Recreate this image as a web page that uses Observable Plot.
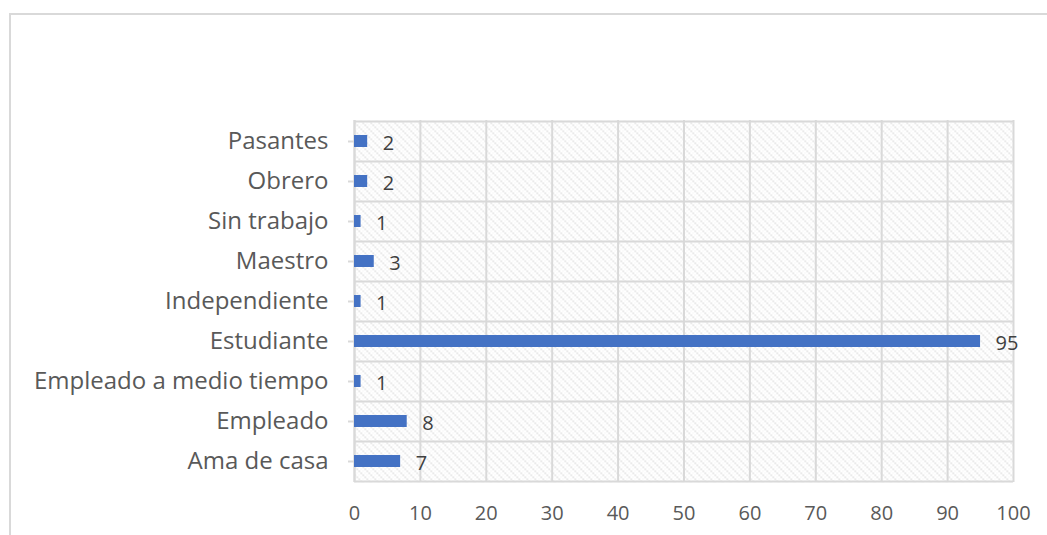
<!DOCTYPE html>
<html>
<head>
<meta charset="utf-8">
<script src="https://cdn.jsdelivr.net/npm/d3@7"></script>
<script src="https://cdn.jsdelivr.net/npm/@observablehq/plot@0.6"></script>
<style>
  html, body { margin: 0; padding: 0; background: #fff; }
  #wrap { position: relative; width: 1047px; height: 535px; overflow: hidden; }
  #frame { position: absolute; left: 9px; top: 13px; width: 1100px; height: 600px; border: 2px solid #d9d9d9; box-sizing: border-box; }
  #chart { position: absolute; left: 0; top: 0; }
</style>
</head>
<body>
<div id="wrap"><div id="frame"></div><div id="chart"></div></div>
<script>
const categories = ["Pasantes", "Obrero", "Sin trabajo", "Maestro", "Independiente", "Estudiante", "Empleado a medio tiempo", "Empleado", "Ama de casa"];
const values = [2, 2, 1, 3, 1, 95, 1, 8, 7];
const xTicks = [0, 10, 20, 30, 40, 50, 60, 70, 80, 90, 100];

const data = categories.map((c, i) => ({category: c, value: values[i]}));

const chart = Plot.plot({
  width: 1047,
  height: 535,
  marginLeft: 354,
  marginRight: 34,
  marginTop: 120,
  marginBottom: 53,
  style: {fontFamily: "'Open Sans', sans-serif", background: "transparent"},
  x: {domain: [0, 100], ticks: xTicks, label: null},
  y: {domain: categories, padding: 0, label: null},
  marks: [
    Plot.frame({fill: "url(#hatch)", stroke: null}),
    Plot.gridX(xTicks, {stroke: "#d9d9d9", strokeWidth: 2, strokeOpacity: 1}),
    Plot.tickY(categories, {y: d => d, dy: 20, stroke: "#d9d9d9", strokeWidth: 2}),
    Plot.tickY(categories.slice(0, 1), {y: d => d, dy: -20, stroke: "#d9d9d9", strokeWidth: 2}),
    Plot.ruleX([0], {stroke: "#d9d9d9", strokeWidth: 2}),
    Plot.barX(data, {x: "value", y: "category", fill: "#4472C4", insetTop: 14, insetBottom: 14}),
    Plot.text(data, {x: "value", y: "category", text: d => String(d.value), textAnchor: "start", dx: 15, dy: 2, fontSize: 20, fill: "#404040"}),
    Plot.axisX({ticks: xTicks, tickSize: 0, tickPadding: 23, fontSize: 20, color: "#595959", tickFormat: d => String(d)}),
    Plot.axisY({tickSize: 6, tickPadding: 20, fontSize: 24, color: "#595959"})
  ]
});

const svg = d3.select(chart);
const defs = svg.insert("defs", ":first-child");
const pat = defs.append("pattern").attr("id", "hatch").attr("patternUnits", "userSpaceOnUse").attr("width", 8).attr("height", 8);
pat.append("rect").attr("width", 8).attr("height", 8).attr("fill", "#ffffff");
[[0,0],[2,2],[4,4],[6,6]].forEach(([x, y]) => pat.append("rect").attr("x", x).attr("y", y).attr("width", 1.5).attr("height", 1.5).attr("fill", "#dadada"));
[[4,0],[6,2],[0,4],[2,6]].forEach(([x, y]) => pat.append("rect").attr("x", x).attr("y", y).attr("width", 1).attr("height", 1).attr("fill", "#eeeeee"));
svg.selectAll("[aria-label='y-axis tick'] path").attr("stroke", "#d9d9d9").attr("stroke-width", 2);

document.getElementById("chart").appendChild(chart);
</script>
</body>
</html>
